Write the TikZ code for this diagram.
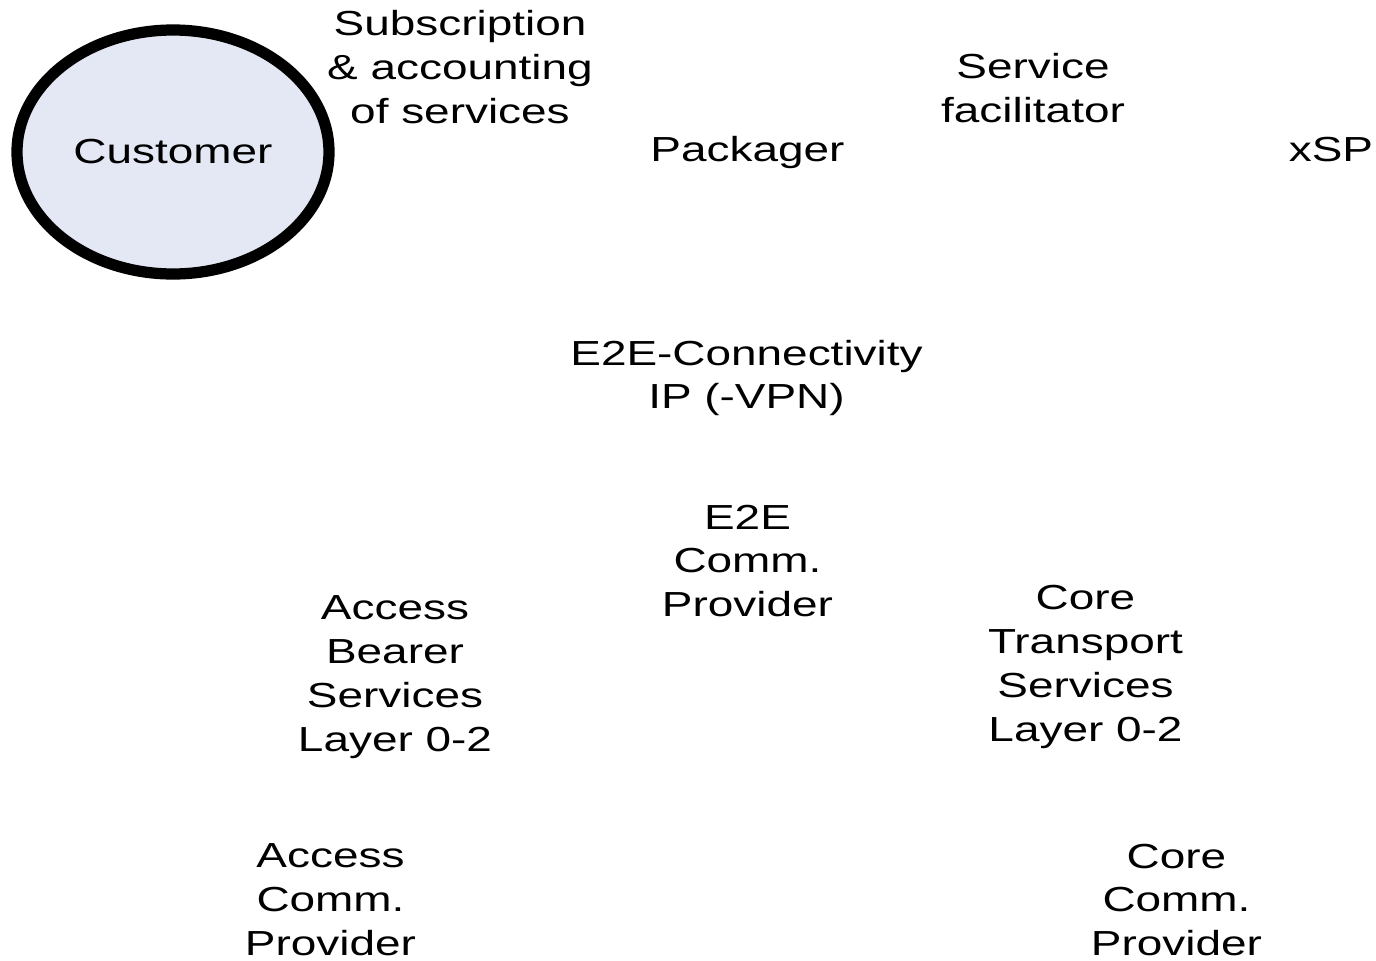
\documentclass[tikz,border=0pt]{standalone}
\usepackage{fontspec}
\setmainfont[FakeStretch=1.32]{Liberation Sans}
\usetikzlibrary{shapes.geometric}
\definecolor{custfill}{RGB}{228,232,244}
\begin{document}
\begin{tikzpicture}[
  lbl/.style={align=center, inner sep=0pt,
    font=\fontsize{9.9pt}{12.5pt}\selectfont},
  actor/.style={ellipse, draw=black, line width=3.2pt, fill=custfill,
    minimum width=3.12cm, minimum height=2.44cm, inner sep=0pt,
    font=\fontsize{9.9pt}{12.5pt}\selectfont}
]
\useasboundingbox (0,0) rectangle (13.76,9.60);

\node[actor] (customer) at (1.73,8.08) {Customer};

\node[lbl] (subscr)   at (4.60,8.93)  {Subscription\\\& accounting\\of services};
\node[lbl] (packager) at (7.475,8.07) {Packager};
\node[lbl] (facil)    at (10.33,8.715) {Service\\facilitator};
\node[lbl] (xsp)      at (13.31,8.10) {xSP};

\node[lbl] (e2econn)  at (7.465,5.82) {E2E-Connectivity\\IP (-VPN)};
\node[lbl] (e2eprov)  at (7.475,3.99) {E2E\\Comm.\\Provider};

\node[lbl] (accbear)  at (3.95,2.83)  {Access\\Bearer\\Services\\Layer 0-2};
\node[lbl] (coretr)   at (10.855,2.93) {Core\\Transport\\Services\\Layer 0-2};

\node[lbl] (accprov)  at (3.305,0.60) {Access\\Comm.\\Provider};
\node[lbl] (coreprov) at (11.765,0.60) {Core\\Comm.\\Provider};
\end{tikzpicture}
\end{document}
